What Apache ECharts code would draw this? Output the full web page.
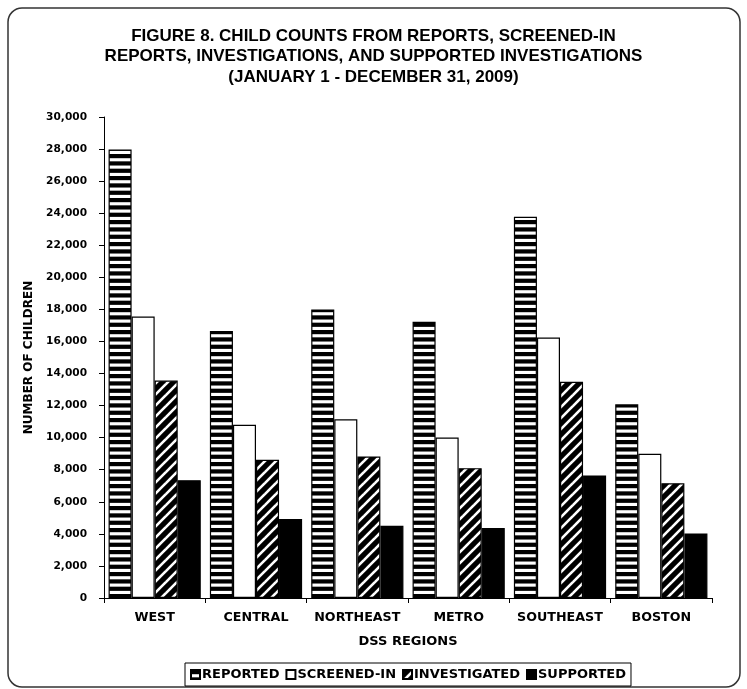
<!DOCTYPE html>
<html>
<head>
<meta charset="utf-8">
<script src="https://cdn.jsdelivr.net/npm/echarts@6/dist/echarts.min.js"></script>
<style>
  html, body { margin: 0; padding: 0; background: #fff; }
  #chart { width: 747px; height: 689px; }
</style>
</head>
<body>
<div id="chart"></div>
<script>
// Child counts by DSS region, calendar year 2009
const regions = ['WEST', 'CENTRAL', 'NORTHEAST', 'METRO', 'SOUTHEAST', 'BOSTON'];
const seriesNames = ['REPORTED', 'SCREENED-IN', 'INVESTIGATED', 'SUPPORTED'];
const reported     = [27980, 16650, 18000, 17230, 23780, 12080];
const screenedIn   = [17550, 10800, 11150, 10010, 16240, 8990];
const investigated = [13560, 8620, 8830, 8100, 13480, 7160];
const supported    = [7350, 4920, 4500, 4370, 7640, 4030];
const yTicks = { min: 0, max: 30000, step: 2000 };

const titleLines = [
  'FIGURE 8. CHILD COUNTS FROM REPORTS, SCREENED-IN',
  'REPORTS, INVESTIGATIONS, AND SUPPORTED INVESTIGATIONS',
  '(JANUARY 1 - DECEMBER 31, 2009)'
];

// Fill patterns drawn on small canvases
function stripePattern() {
  const c = document.createElement('canvas');
  c.width = 8; c.height = 22;
  const g = c.getContext('2d');
  g.fillStyle = '#fff';
  g.fillRect(0, 0, 8, 22);
  g.fillStyle = '#000';
  const p = 22 / 3;
  for (let i = 0; i < 3; i++) g.fillRect(0, i * p, 8, 4.2);
  return c;
}
function diagonalPattern() {
  const s = 11;
  const c = document.createElement('canvas');
  c.width = s; c.height = s;
  const g = c.getContext('2d');
  g.fillStyle = '#000';
  g.fillRect(0, 0, s, s);
  g.strokeStyle = '#fff';
  g.lineWidth = 2.6;
  for (const o of [-s, 0, s]) {
    g.beginPath();
    g.moveTo(o - 1, s + 1);
    g.lineTo(o + s + 1, -1);
    g.stroke();
  }
  return c;
}

const fills = [
  { image: stripePattern(), repeat: 'repeat' },
  '#ffffff',
  { image: diagonalPattern(), repeat: 'repeat' },
  '#000000'
];
const values = [reported, screenedIn, investigated, supported];

const labelFont = 'DejaVu Sans';
const chart = echarts.init(document.getElementById('chart'), null, { renderer: 'canvas' });

chart.setOption({
  animation: false,
  backgroundColor: '#fff',
  title: {
    text: titleLines.join('\n'),
    left: 'center',
    top: 21,
    textStyle: {
      fontFamily: '"Liberation Sans", Arial, sans-serif',
      fontWeight: 'bold',
      fontSize: 17,
      lineHeight: 20.5,
      color: '#000'
    }
  },
  legend: {
    data: seriesNames,
    left: 185,
    top: 663,
    itemWidth: 9,
    itemHeight: 9,
    itemGap: 6,
    padding: [5, 5, 5, 5],
    borderColor: '#000',
    borderWidth: 1,
    icon: 'rect',
    textStyle: {
      fontFamily: labelFont,
      fontWeight: 'bold',
      fontSize: 13,
      color: '#000',
      padding: [0, 0, 0, -3]
    }
  },
  grid: { left: 104, right: 35, top: 117, bottom: 91, containLabel: false },
  xAxis: {
    type: 'category',
    data: regions,
    name: 'DSS REGIONS',
    nameLocation: 'middle',
    nameGap: 37,
    nameTextStyle: { fontFamily: labelFont, fontWeight: 'bold', fontSize: 13, color: '#000' },
    axisLine: { lineStyle: { color: '#000', width: 1 } },
    axisTick: { show: true, length: 5, alignWithLabel: false, lineStyle: { color: '#000' } },
    axisLabel: { interval: 0, margin: 13, fontFamily: labelFont, fontWeight: 'bold', fontSize: 12.7, color: '#000' },
    splitLine: { show: false }
  },
  yAxis: {
    type: 'value',
    min: yTicks.min,
    max: yTicks.max,
    interval: yTicks.step,
    name: 'NUMBER OF CHILDREN',
    nameLocation: 'middle',
    nameGap: 67,
    nameTextStyle: { fontFamily: labelFont, fontWeight: 'bold', fontSize: 12, color: '#000' },
    axisLine: { show: true, lineStyle: { color: '#000', width: 1 } },
    axisTick: { show: true, length: 5, lineStyle: { color: '#000' } },
    axisLabel: {
      margin: 17,
      fontFamily: labelFont,
      fontWeight: 'bold',
      fontSize: 10.6,
      color: '#000',
      formatter: v => v.toLocaleString('en-US')
    },
    splitLine: { show: false }
  },
  series: seriesNames.map((name, i) => ({
    name,
    type: 'bar',
    data: values[i],
    barGap: '0%',
    barCategoryGap: '9%',
    itemStyle: {
      color: fills[i],
      borderColor: '#000',
      borderWidth: 1.2
    }
  })),
  graphic: [{
    type: 'rect',
    silent: true,
    z: -1,
    shape: { x: 8, y: 8, width: 732, height: 679, r: 14 },
    style: { fill: 'none', stroke: '#333', lineWidth: 1.5 }
  }]
});
</script>
</body>
</html>
